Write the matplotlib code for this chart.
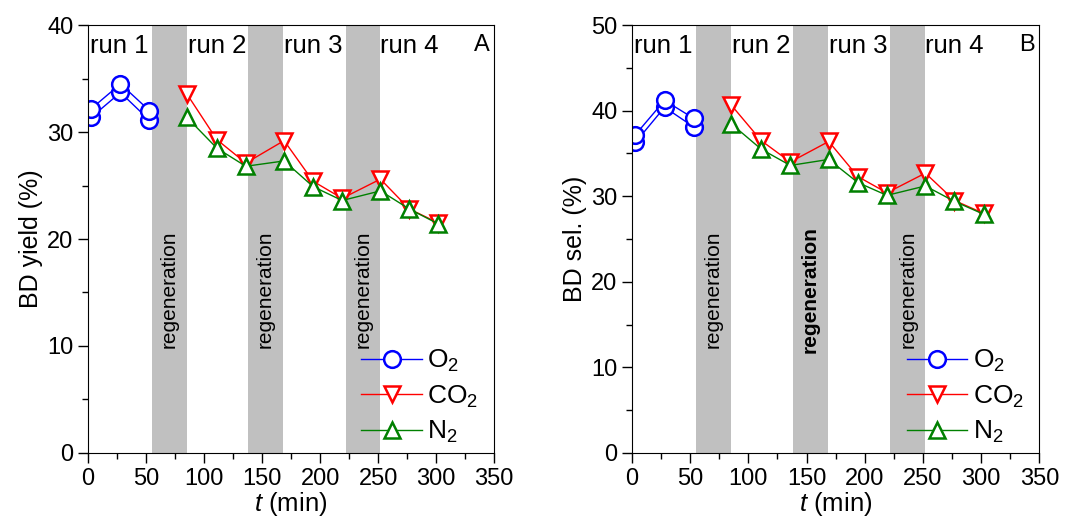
import matplotlib
matplotlib.use("Agg")
import matplotlib.pyplot as plt
from matplotlib.ticker import MultipleLocator

plt.rcParams['font.family'] = ['Liberation Sans', 'DejaVu Sans']
plt.rcParams['mathtext.fontset'] = 'custom'
plt.rcParams['mathtext.it'] = 'Liberation Sans:italic'
plt.rcParams['mathtext.rm'] = 'Liberation Sans'

# time points (min)
t_run1 = [3, 28, 53]
t_rest = [85, 111, 136, 169, 194, 219, 252, 277, 302]

# panel A: BD yield (%)
yield_o2_a = [32.2, 34.5, 32.0]
yield_o2_b = [31.4, 33.7, 31.1]
yield_co2 = [33.6, 29.3, 27.1, 29.2, 25.4, 23.8, 25.6, 22.8, 21.5]
yield_n2 = [31.4, 28.5, 26.8, 27.3, 24.9, 23.6, 24.5, 22.8, 21.4]

# panel B: BD selectivity (%)
sel_o2_a = [37.2, 41.2, 39.1]
sel_o2_b = [36.3, 40.4, 38.1]
sel_co2 = [40.7, 36.5, 34.0, 36.4, 32.3, 30.4, 32.7, 29.5, 28.0]
sel_n2 = [38.5, 35.5, 33.6, 34.3, 31.6, 30.1, 31.2, 29.4, 27.9]

regen = [(55, 85), (138, 168), (222, 252)]
run_labels = ['run 1', 'run 2', 'run 3', 'run 4']
run_x = [2, 86, 169, 252]

fig = plt.figure(figsize=(10.65, 5.23), dpi=100)
ax1 = fig.add_axes([0.0826, 0.134, 0.3814, 0.818])
ax2 = fig.add_axes([0.5934, 0.134, 0.3826, 0.818])

panels = [
    (ax1, yield_o2_a, yield_o2_b, yield_co2, yield_n2, 40, 'BD yield (%)', 'A', False),
    (ax2, sel_o2_a, sel_o2_b, sel_co2, sel_n2, 50, 'BD sel. (%)', 'B', True),
]

for ax, o2a, o2b, co2, n2, ymax, ylab, tag, boldmid in panels:
    for i, (x0, x1) in enumerate(regen):
        ax.axvspan(x0, x1, color='#c0c0c0', lw=0, zorder=0)
        ax.text((x0 + x1) / 2, ymax * 0.383, 'regeneration', rotation=90,
                ha='center', va='center', fontsize=15,
                fontweight='bold' if (boldmid and i == 1) else 'normal')
    mk = dict(ms=12, mew=1.8, mfc='white', lw=1)
    ax.plot(t_run1, o2b, 'o-', color='blue', **mk)
    ax.plot(t_run1, o2a, 'o-', color='blue', label='O$_2$', **mk)
    ax.plot(t_rest, co2, 'v-', color='red', label='CO$_2$', **mk)
    ax.plot(t_rest, n2, '^-', color='green', label='N$_2$', **mk)

    for lab, x in zip(run_labels, run_x):
        ax.text(x, ymax * 0.98, lab, ha='left', va='top', fontsize=18.5)
    ax.text(346, ymax * 0.98, tag, ha='right', va='top', fontsize=17)

    ax.set_xlim(0, 350)
    ax.set_ylim(0, ymax)
    ax.xaxis.set_major_locator(MultipleLocator(50))
    ax.xaxis.set_minor_locator(MultipleLocator(25))
    ax.yaxis.set_major_locator(MultipleLocator(10))
    ax.yaxis.set_minor_locator(MultipleLocator(5))
    ax.tick_params(which='both', direction='out', labelsize=17, width=1)
    ax.tick_params(which='major', length=7)
    ax.tick_params(which='minor', length=4)
    ax.set_xlabel('$t$ (min)', fontsize=18.5, labelpad=0)
    ax.set_ylabel(ylab, fontsize=18, labelpad=3)

    ax.legend(loc='lower right', bbox_to_anchor=(0.968, 0.012), frameon=False,
              fontsize=19, handlelength=2.3, labelspacing=0.35, handletextpad=0.2,
              borderaxespad=0.0, borderpad=0.1)

fig.savefig('out.png', dpi=100)
